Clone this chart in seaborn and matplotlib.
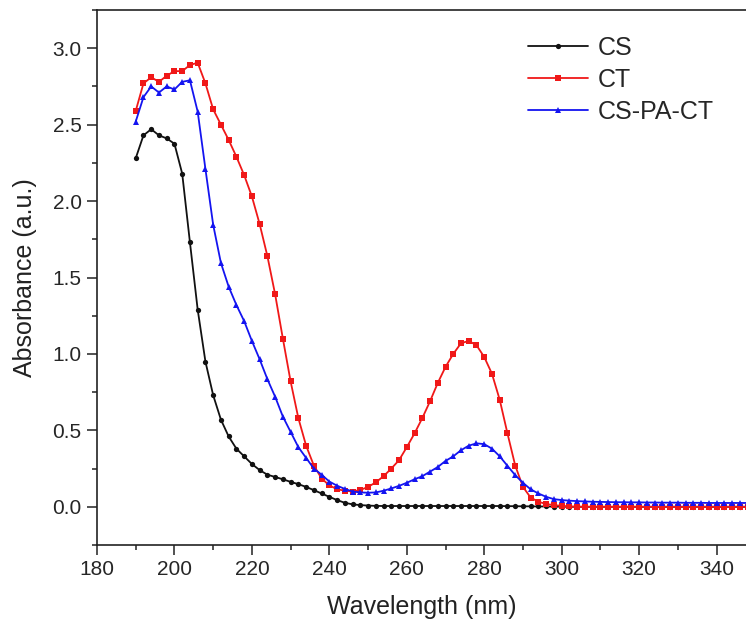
import numpy as np
import pandas as pd
import seaborn as sns
import matplotlib.pyplot as plt
from matplotlib.ticker import MultipleLocator

# UV-vis spectra, sampled every 2 nm from 190 to 348 nm
wavelength = np.arange(190, 350, 2)

cs = [2.28, 2.43, 2.47, 2.43, 2.41, 2.375, 2.18, 1.73, 1.29, 0.95,
      0.73, 0.57, 0.46, 0.38, 0.33, 0.28, 0.24, 0.21, 0.195, 0.18,
      0.163, 0.148, 0.13, 0.109, 0.087, 0.065, 0.044, 0.026, 0.016, 0.011,
      0.008, 0.006, 0.005, 0.005, 0.005, 0.005, 0.005, 0.005, 0.005, 0.005,
      0.005, 0.005, 0.005, 0.005, 0.005, 0.005, 0.005, 0.005, 0.004, 0.004,
      0.003, 0.003, 0.002, 0.002, 0.001, 0.001, 0.0, 0.0, 0.0, 0.0,
      0.0, 0.0, 0.0, 0.0, 0.0, 0.0, 0.0, 0.0, 0.0, 0.0,
      0.0, 0.0, 0.0, 0.0, 0.0, 0.0, 0.0, 0.0, 0.0, 0.0]

ct = [2.59, 2.77, 2.81, 2.78, 2.82, 2.85, 2.85, 2.89, 2.905, 2.77,
      2.60, 2.50, 2.40, 2.29, 2.17, 2.03, 1.85, 1.64, 1.39, 1.10,
      0.82, 0.58, 0.40, 0.27, 0.185, 0.14, 0.115, 0.105, 0.10, 0.11,
      0.13, 0.16, 0.20, 0.25, 0.305, 0.39, 0.48, 0.58, 0.69, 0.81,
      0.915, 1.00, 1.07, 1.085, 1.057, 0.98, 0.87, 0.70, 0.48, 0.27,
      0.13, 0.06, 0.033, 0.018, 0.011, 0.006, 0.002, 0.001, 0.0, 0.0,
      0.0, 0.0, 0.0, 0.0, 0.0, 0.0, 0.0, 0.0, 0.0, 0.0,
      0.0, 0.0, 0.0, 0.0, 0.0, 0.0, 0.0, 0.0, 0.0, 0.0]

cs_pa_ct = [2.52, 2.68, 2.75, 2.71, 2.75, 2.73, 2.78, 2.79, 2.585, 2.21,
            1.845, 1.595, 1.44, 1.32, 1.215, 1.085, 0.965, 0.835, 0.72, 0.59,
            0.49, 0.39, 0.32, 0.25, 0.21, 0.165, 0.138, 0.117, 0.10, 0.094,
            0.092, 0.094, 0.105, 0.12, 0.137, 0.157, 0.18, 0.20, 0.23, 0.26,
            0.30, 0.33, 0.37, 0.40, 0.415, 0.41, 0.38, 0.33, 0.268, 0.207,
            0.157, 0.114, 0.087, 0.065, 0.05, 0.044, 0.04, 0.037, 0.035, 0.033,
            0.032, 0.031, 0.03, 0.03, 0.029, 0.029, 0.028, 0.028, 0.027, 0.027,
            0.027, 0.026, 0.026, 0.026, 0.025, 0.025, 0.025, 0.025, 0.025, 0.025]

names = ["CS", "CT", "CS-PA-CT"]
colors = ["#111111", "#f01818", "#1414f0"]
markers = ["o", "s", "^"]
msizes = [3.8, 4.4, 4.8]

sns.set_style("ticks")
plt.rcParams["font.family"] = ["Liberation Sans", "DejaVu Sans"]

fig = plt.figure(figsize=(7.46, 6.28), dpi=100)
ax = fig.add_axes([97 / 746, 83 / 628, 649 / 746, 535 / 628])

for name, vals, c, m, ms in zip(names, [cs, ct, cs_pa_ct], colors, markers, msizes):
    df = pd.DataFrame({"Wavelength": wavelength, "Absorbance": vals})
    sns.lineplot(data=df, x="Wavelength", y="Absorbance", ax=ax, color=c,
                 marker=m, markersize=ms, markeredgewidth=0, linewidth=1.3,
                 label=name)

ax.set_xlim(180, 347.6)
ax.set_ylim(-0.25, 3.25)
ax.xaxis.set_major_locator(MultipleLocator(20))
ax.xaxis.set_minor_locator(MultipleLocator(10))
ax.yaxis.set_major_locator(MultipleLocator(0.5))
ax.yaxis.set_minor_locator(MultipleLocator(0.25))
ax.yaxis.set_major_formatter(plt.FormatStrFormatter("%.1f"))

ax.tick_params(which="major", length=7, width=1.1, labelsize=15, pad=4, color="#222222")
ax.tick_params(which="minor", length=3.5, width=1.1, color="#222222")
ax.spines["right"].set_visible(False)
for s in ["left", "bottom", "top"]:
    ax.spines[s].set_linewidth(1.2)
    ax.spines[s].set_color("#222222")

ax.set_xlabel("Wavelength (nm)", fontsize=18, labelpad=11, color="#222222")
ax.set_ylabel("Absorbance (a.u.)", fontsize=18, labelpad=11, color="#222222")

ax.legend(frameon=False, fontsize=18, loc="upper left",
          bbox_to_anchor=(0.664, 0.952), borderaxespad=0, borderpad=0,
          handlelength=2.4, handletextpad=0.4, labelspacing=0.32)

plt.savefig("out.png", dpi=100)
